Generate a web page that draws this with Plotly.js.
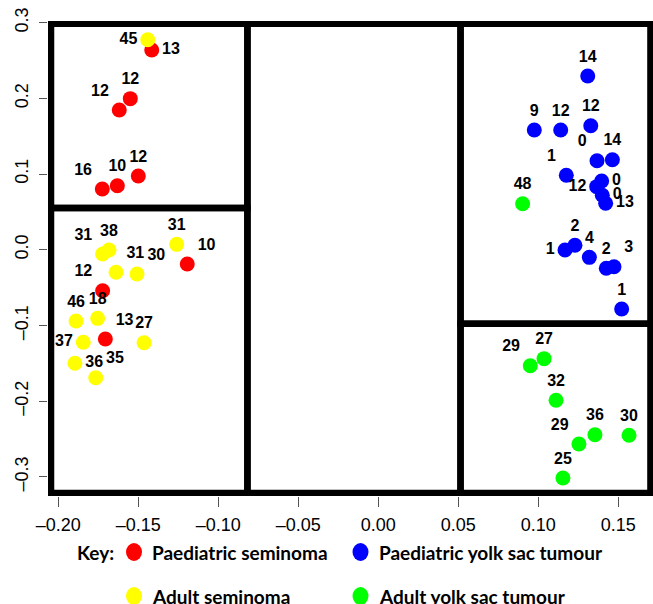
<!DOCTYPE html>
<html>
<head>
<meta charset="utf-8">
<script src="https://cdn.plot.ly/plotly-3.0.1.min.js"></script>
<style>html,body{margin:0;padding:0;background:#fff;}#chart{width:653px;height:604px;}</style>
</head>
<body>
<div id="chart"></div>
<script>
// ---- Data ----
const paedSemX = [-0.1416, -0.1550, -0.1619, -0.1725, -0.1631, -0.1500, -0.1194, -0.1723, -0.1706];
const paedSemY = [0.2639, 0.1996, 0.1846, 0.0802, 0.0846, 0.0974, -0.0189, -0.0542, -0.1180];
const paedSemLabels = ["13", "12", "12", "16", "10", "12", "10", "12", "13"];

const adultSemX = [-0.1441, -0.1260, -0.1683, -0.1723, -0.1639, -0.1508, -0.1889, -0.1754, -0.1464, -0.1844, -0.1896, -0.1766];
const adultSemY = [0.2775, 0.0071, -0.0004, -0.0057, -0.0299, -0.0321, -0.0942, -0.0907, -0.1229, -0.1224, -0.1501, -0.1692];
const adultSemLabels = ["45", "31", "38", "31", "31", "30", "46", "18", "27", "37", "36", "35"];

const paedYolkX = [0.1309, 0.0975, 0.1140, 0.1328, 0.1367, 0.1463, 0.1175, 0.1396, 0.1365, 0.1400, 0.1421, 0.1167, 0.1229, 0.1319, 0.1425, 0.1473, 0.1521];
const paedYolkY = [0.2296, 0.1582, 0.1582, 0.1639, 0.1176, 0.1189, 0.0983, 0.0908, 0.0833, 0.0719, 0.0613, -0.0004, 0.0058, -0.0101, -0.0246, -0.0225, -0.0784];
const paedYolkLabels = ["14", "9", "12", "12", "0", "14", "1", "0", "12", "0", "13", "1", "2", "4", "2", "3", "1"];

const adultYolkX = [0.0902, 0.0950, 0.1036, 0.1111, 0.1254, 0.1354, 0.1567, 0.1154];
const adultYolkY = [0.0608, -0.1533, -0.1440, -0.1990, -0.2568, -0.2445, -0.2453, -0.3017];
const adultYolkLabels = ["48", "29", "27", "32", "29", "36", "30", "25"];

const xTickVals = [-0.20, -0.15, -0.10, -0.05, 0.00, 0.05, 0.10, 0.15];
const yTickVals = [-0.3, -0.2, -0.1, 0.0, 0.1, 0.2, 0.3];

const groupNames = ["Paediatric seminoma", "Paediatric yolk sac tumour", "Adult seminoma", "Adult yolk sac tumour"];

// ---- Label placement (style) ----
const paedSemPos = ["middle right", "top center", "top left", "top left", "top center", "top center", "top right", "top left", "top right"];
const adultSemPos = ["middle left", "top center", "top center", "top left", "top right", "top right", "top center", "top center", "top center", "middle left", "middle right", "top right"];
const paedYolkPos = ["top center", "top center", "top center", "top center", "top left", "top center", "top left", "middle right", "middle left", "middle right", "middle right", "middle left", "top center", "top center", "top center", "top right", "top center"];
const adultYolkPos = ["top center", "top left", "top center", "top center", "top left", "top center", "top center", "top center"];

const COLORS = {red: "#FF0000", blue: "#0000FF", yellow: "#FFFF00", green: "#00FF00"};
const labelFont = {family: "Liberation Sans, Arial, sans-serif", size: 16, color: "#000", weight: "bold"};

function grp(x, y, labels, pos, color, name) {
  return {
    type: "scatter", mode: "markers+text", name: name,
    x: x, y: y, text: labels, textposition: pos,
    textfont: labelFont,
    marker: {color: color, size: 15, line: {width: 0}},
    showlegend: false, cliponaxis: false, hoverinfo: "x+y+text"
  };
}

const traces = [
  grp(paedSemX, paedSemY, paedSemLabels, paedSemPos, COLORS.red, groupNames[0]),
  grp(adultSemX, adultSemY, adultSemLabels, adultSemPos, COLORS.yellow, groupNames[2]),
  grp(paedYolkX, paedYolkY, paedYolkLabels, paedYolkPos, COLORS.blue, groupNames[1]),
  grp(adultYolkX, adultYolkY, adultYolkLabels, adultYolkPos, COLORS.green, groupNames[3])
];

// ---- Layout geometry ----
const L = 48, R = 653, T = 21, B = 496;
const xLeft = -0.20456, xDivA = -0.0818, xDivB = 0.0514, xRight = 0.1701;
const yTop = 0.2987, yBottom = -0.3215, yDivL = 0.0551, yDivR = -0.0978;
const boxLine = {color: "#000", width: 6.5};
function rect(x0, x1, y0, y1) {
  return {type: "rect", xref: "x", yref: "y", x0: x0, x1: x1, y0: y0, y1: y1, line: boxLine, fillcolor: "rgba(0,0,0,0)", layer: "below"};
}
const shapes = [
  rect(xLeft, xDivA, yDivL, yTop),
  rect(xLeft, xDivA, yBottom, yDivL),
  rect(xDivA, xDivB, yBottom, yTop),
  rect(xDivB, xRight, yDivR, yTop),
  rect(xDivB, xRight, yBottom, yDivR)
];

// legend (key) drawn with paper-anchored pixel shapes and annotations
function px2paperX(p) { return (p - L) / (R - L); }
function px2paperY(p) { return (B - p) / (B - T); }
const keyItems = [
  {color: COLORS.red, name: groupNames[0], dot: 134, text: 150, row: 552},
  {color: COLORS.blue, name: groupNames[1], dot: 360.5, text: 377, row: 552},
  {color: COLORS.yellow, name: groupNames[2], dot: 134, text: 150, row: 596},
  {color: COLORS.green, name: groupNames[3], dot: 360.5, text: 377, row: 596}
];
const keyFont = {family: "Lato, 'Open Sans', sans-serif", size: 19, color: "#000", weight: "bold"};
const annotations = [{
  xref: "paper", yref: "paper", x: px2paperX(75), y: px2paperY(552),
  xanchor: "left", yanchor: "middle", text: "<b>Key:</b>", showarrow: false, font: keyFont
}];
keyItems.forEach(k => {
  shapes.push({
    type: "circle", xref: "paper", yref: "paper",
    xsizemode: "pixel", ysizemode: "pixel",
    xanchor: px2paperX(k.dot), yanchor: px2paperY(k.row),
    x0: -8, x1: 8, y0: -9, y1: 9,
    fillcolor: k.color, line: {width: 0}
  });
  annotations.push({
    xref: "paper", yref: "paper", x: px2paperX(k.text), y: px2paperY(k.row),
    xanchor: "left", yanchor: "middle", text: "<b>" + k.name + "</b>", showarrow: false, font: keyFont
  });
});

const tickFont = {family: "Liberation Sans, Arial, sans-serif", size: 18, color: "#000"};
const layout = {
  width: 653, height: 604,
  margin: {l: L, r: 653 - R, t: T, b: 604 - B, pad: 0},
  paper_bgcolor: "#fff", plot_bgcolor: "#fff",
  xaxis: {
    range: [-0.20644, 0.17169], tickmode: "array", tickvals: xTickVals,
    ticktext: xTickVals.map(v => (v < 0 ? "\u2013" : "") + Math.abs(v).toFixed(2)),
    ticks: "outside", ticklen: 10, tickwidth: 1, tickcolor: "#555",
    showgrid: false, zeroline: false, showline: false,
    tickfont: tickFont, ticklabelstandoff: 2, fixedrange: true
  },
  yaxis: {
    range: [-0.32551, 0.30225], tickmode: "array", tickvals: yTickVals,
    ticktext: yTickVals.map(v => (v < 0 ? "\u2013" : "") + Math.abs(v).toFixed(1)),
    ticks: "outside", ticklen: 8, tickwidth: 1, tickcolor: "#555", tickangle: -90,
    showgrid: false, zeroline: false, showline: false,
    tickfont: tickFont, ticklabelstandoff: 4, fixedrange: true
  },
  shapes: shapes,
  annotations: annotations,
  showlegend: false
};

Plotly.newPlot("chart", traces, layout, {displayModeBar: false, staticPlot: true});
</script>
</body>
</html>
